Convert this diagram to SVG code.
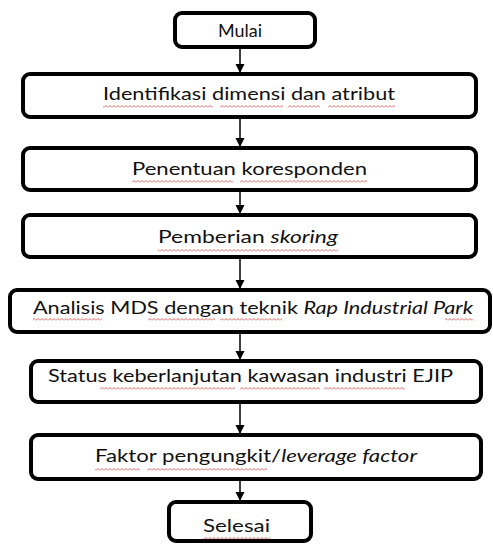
<svg xmlns="http://www.w3.org/2000/svg" width="493" height="545" viewBox="0 0 493 545">
  <style>
    .box { fill: #ffffff; stroke: #000000; stroke-width: 4; }
    .lbl { font-family: Lato, "Open Sans", sans-serif; font-size: 17.5px; fill: #111111; }
    .it { font-style: italic; }
    .conn { stroke: #000000; stroke-width: 1.5; fill: none; marker-end: url(#arrow); }
    .sq { fill: url(#wave); }
  </style>
  <defs>
    <marker id="arrow" markerUnits="userSpaceOnUse" markerWidth="10" markerHeight="10" refX="9" refY="4.5" orient="auto">
      <path d="M0,0 L9,4.5 L0,9 Z" fill="#000000"/>
    </marker>
    <pattern id="wave" patternUnits="userSpaceOnUse" width="4" height="3">
      <path d="M0,2.5 L2,0.5 L4,2.5" fill="none" stroke="#cc3333" stroke-width="0.9" opacity="0.85"/>
    </pattern>
  </defs>
  <rect width="493" height="545" fill="#ffffff"/>

  <g id="connectors">
    <line class="conn" x1="240" y1="48" x2="240" y2="73"/>
    <line class="conn" x1="240" y1="119" x2="240" y2="147"/>
    <line class="conn" x1="240" y1="192" x2="240" y2="214"/>
    <line class="conn" x1="240" y1="259" x2="240" y2="289"/>
    <line class="conn" x1="240" y1="334" x2="240" y2="360"/>
    <line class="conn" x1="240" y1="404" x2="240" y2="434"/>
    <line class="conn" x1="240" y1="481" x2="240" y2="501"/>
  </g>

  <g id="mulai">
    <rect class="box" x="175" y="13" width="140" height="34" rx="7"/>
    <text class="lbl" x="218" y="37" font-size="16" textLength="44" lengthAdjust="spacingAndGlyphs">Mulai</text>
  </g>

  <g id="identifikasi">
    <rect class="box" x="23" y="74" width="453" height="43" rx="7"/>
    <text class="lbl" x="103" y="100" textLength="292" lengthAdjust="spacingAndGlyphs">Identifikasi dimensi dan atribut</text>
    <rect class="sq" x="103" y="105" width="110" height="3"/>
    <rect class="sq" x="220" y="105" width="63" height="3"/>
    <rect class="sq" x="288" y="105" width="32" height="3"/>
    <rect class="sq" x="328" y="105" width="67" height="3"/>
  </g>

  <g id="penentuan">
    <rect class="box" x="23" y="148" width="453" height="42" rx="7"/>
    <text class="lbl" x="132" y="175" textLength="235" lengthAdjust="spacingAndGlyphs">Penentuan koresponden</text>
    <rect class="sq" x="132" y="180" width="101" height="3"/>
    <rect class="sq" x="240" y="180" width="127" height="3"/>
  </g>

  <g id="pemberian">
    <rect class="box" x="23" y="215" width="453" height="42" rx="7"/>
    <text class="lbl" x="158" y="243" textLength="180" lengthAdjust="spacingAndGlyphs">Pemberian  <tspan class="it">skoring</tspan></text>
    <rect class="sq" x="158" y="249" width="180" height="3"/>
  </g>

  <g id="analisis">
    <rect class="box" x="10" y="290" width="480" height="42" rx="7"/>
    <text class="lbl" x="33" y="314" textLength="440" lengthAdjust="spacingAndGlyphs">Analisis MDS dengan teknik <tspan class="it">Rap Industrial Park</tspan></text>
    <rect class="sq" x="33" y="318" width="69" height="3"/>
    <rect class="sq" x="148" y="318" width="67" height="3"/>
    <rect class="sq" x="220" y="318" width="62" height="3"/>
    <rect class="sq" x="445" y="318" width="28" height="3"/>
  </g>

  <g id="status">
    <rect class="box" x="31" y="361" width="450" height="41" rx="7"/>
    <text class="lbl" x="48" y="382" textLength="405" lengthAdjust="spacingAndGlyphs">Status keberlanjutan kawasan industri EJIP</text>
    <rect class="sq" x="100" y="387" width="135" height="3"/>
    <rect class="sq" x="240" y="387" width="80" height="3"/>
    <rect class="sq" x="324" y="387" width="81" height="3"/>
  </g>

  <g id="faktor">
    <rect class="box" x="31" y="435" width="450" height="44" rx="7"/>
    <text class="lbl" x="95" y="462" textLength="322" lengthAdjust="spacingAndGlyphs">Faktor pengungkit/<tspan class="it">leverage factor</tspan></text>
    <rect class="sq" x="95" y="468" width="45" height="3"/>
    <rect class="sq" x="147" y="468" width="120" height="3"/>
  </g>

  <g id="selesai">
    <rect class="box" x="169" y="502" width="142" height="39" rx="7"/>
    <text class="lbl" x="203" y="532" textLength="67" lengthAdjust="spacingAndGlyphs">Selesai</text>
    <rect class="sq" x="203" y="537" width="67" height="3"/>
  </g>
</svg>
